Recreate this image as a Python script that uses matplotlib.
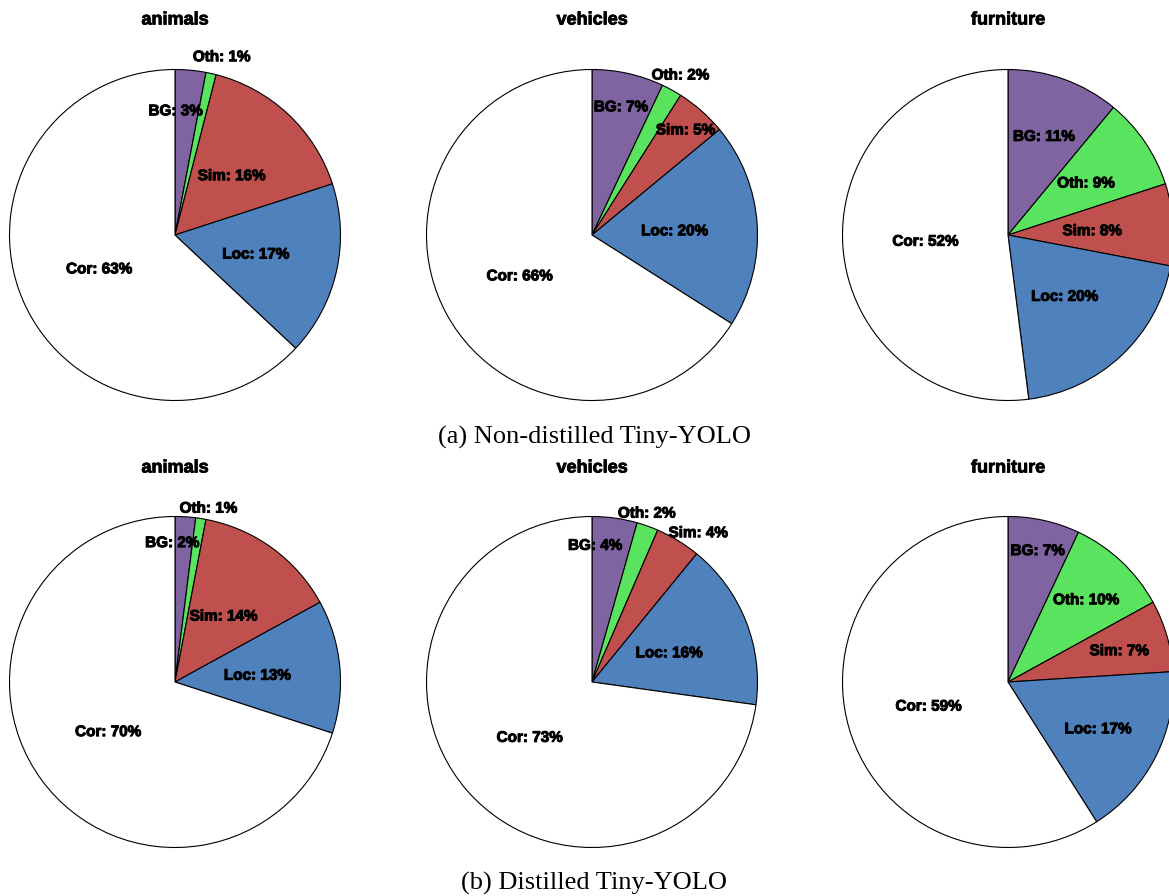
import matplotlib
matplotlib.use("Agg")
import matplotlib.pyplot as plt
import matplotlib.patheffects as pe
import numpy as np

# ---- data -------------------------------------------------------------
categories = ["BG", "Oth", "Sim", "Loc", "Cor"]
groups = ["animals", "vehicles", "furniture"]

non_distilled = {
    "animals":   [3, 1, 16, 17, 63],
    "vehicles":  [7, 2, 5, 20, 66],
    "furniture": [11, 9, 8, 20, 52],
}
distilled = {
    "animals":   [2, 1, 14, 13, 70],
    "vehicles":  [4.4, 2.1, 4.4, 16.3, 72.8],
    "furniture": [7, 10, 7, 17, 59],
}
captions = ["(a) Non-distilled Tiny-YOLO", "(b) Distilled Tiny-YOLO"]

# ---- styling -----------------------------------------------------------
colors = ["#8064A2", "#5AE35E", "#C0504D", "#4F81BD", "#FFFFFF"]

# radial distance of each label (fraction of radius) and small nudges (x, y)
label_radius = {
    (0, "animals"):   [0.76, 1.11, 0.5, 0.5, 0.5],
    (0, "vehicles"):  [0.80, 1.11, 0.855, 0.5, 0.5],
    (0, "furniture"): [0.64, 0.57, 0.51, 0.5, 0.5],
    (1, "animals"):   [0.85, 1.07, 0.5, 0.5, 0.5],
    (1, "vehicles"):  [0.84, 1.09, 1.11, 0.5, 0.5],
    (1, "furniture"): [0.82, 0.69, 0.70, 0.61, 0.5],
}
label_nudge = {
    (0, "animals", 0): (-0.068, 0.0),
    (0, "animals", 1): (0.04, 0.0),
    (1, "animals", 0): (-0.07, 0.0),
    (1, "animals", 1): (0.035, 0.0),
    (1, "vehicles", 0): (-0.097, 0.0),
    (1, "vehicles", 1): (-0.035, 0.0),
    (1, "vehicles", 2): (0.065, -0.04),
}

W, H = 1169, 896
DPI = 100
fig = plt.figure(figsize=(W / DPI, H / DPI), dpi=DPI)
fig.patch.set_facecolor("white")

R = 165.5
centers_x = [175, 592, 1008]
centers_y = [235, 682]
title_y = [18, 466]
caption_y = [435, 881]

label_font = dict(family="Liberation Sans", weight="bold", size=11)
stroke = [pe.withStroke(linewidth=0.7, foreground="black")]

for row, table in enumerate([non_distilled, distilled]):
    for col, grp in enumerate(groups):
        vals = table[grp]
        cx, cy = centers_x[col], centers_y[row]
        ax = fig.add_axes([(cx - R) / W, 1 - (cy + R) / H, 2 * R / W, 2 * R / H])
        wedges, _ = ax.pie(
            vals, colors=colors, startangle=90, counterclock=False, radius=1,
            wedgeprops=dict(edgecolor="black", linewidth=0.8),
        )
        ax.set_xlim(-1, 1)
        ax.set_ylim(-1, 1)
        ax.set_aspect("equal")
        ax.axis("off")

        total = float(sum(vals))
        radii = label_radius[(row, grp)]
        for i, (w, v) in enumerate(zip(wedges, vals)):
            mid = np.deg2rad((w.theta1 + w.theta2) / 2.0)
            r = radii[i]
            nx, ny = label_nudge.get((row, grp, i), (0.0, 0.0))
            x = r * np.cos(mid) + nx
            y = r * np.sin(mid) + ny
            ax.text(x, y, f"{categories[i]}: {v / total * 100:.0f}%",
                    ha="center", va="center_baseline", clip_on=False,
                    path_effects=stroke, **label_font)

        fig.text(cx / W, 1 - title_y[row] / H, grp, ha="center",
                 va="center_baseline",
                 family="Liberation Sans", weight="bold", size=13,
                 path_effects=[pe.withStroke(linewidth=0.6, foreground="black")])

    fig.text(594 / W, 1 - caption_y[row] / H, captions[row], ha="center",
             va="center_baseline", family="Liberation Serif", size=19)

fig.savefig("out.png", dpi=DPI, facecolor="white")
